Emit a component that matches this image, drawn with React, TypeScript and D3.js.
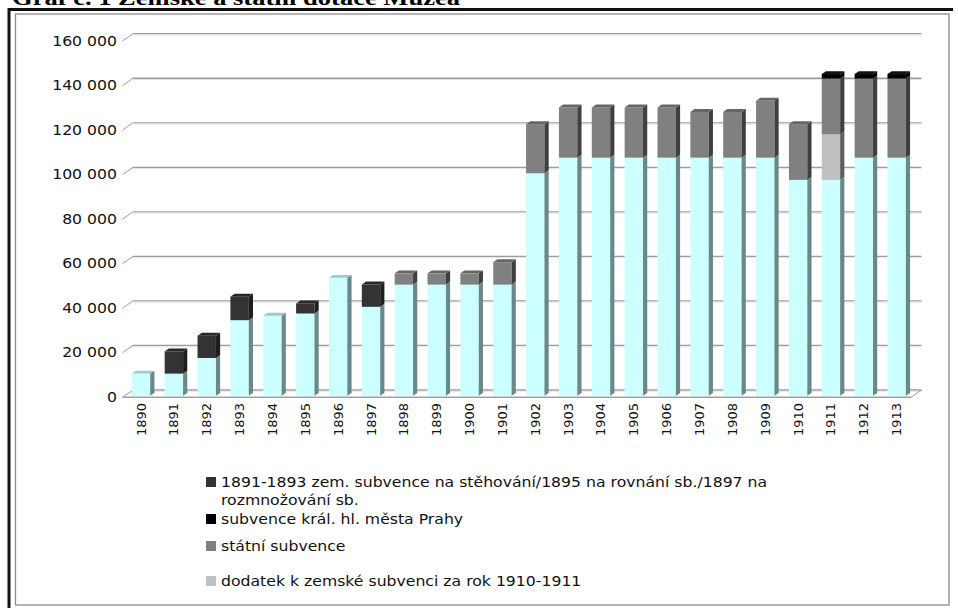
import * as d3 from 'd3';

const YEARS = ['1890', '1891', '1892', '1893', '1894', '1895', '1896', '1897', '1898', '1899', '1900', '1901',
  '1902', '1903', '1904', '1905', '1906', '1907', '1908', '1909', '1910', '1911', '1912', '1913'];

// zemská subvence (base, no legend entry)
const ZEMSKA = [10000, 10000, 17000, 34000, 36000, 37000, 53000, 40000, 50000, 50000, 50000, 50000,
  100000, 107000, 107000, 107000, 107000, 107000, 107000, 107000, 97000, 97000, 107000, 107000];
const STEHOVANI = [0, 10000, 10000, 10500, 0, 4500, 0, 10000, 0, 0, 0, 0,
  0, 0, 0, 0, 0, 0, 0, 0, 0, 0, 0, 0];
const DODATEK = [0, 0, 0, 0, 0, 0, 0, 0, 0, 0, 0, 0,
  0, 0, 0, 0, 0, 0, 0, 0, 0, 20500, 0, 0];
const STATNI = [0, 0, 0, 0, 0, 0, 0, 0, 5000, 5000, 5000, 10000,
  22000, 22500, 22500, 22500, 22500, 20500, 20500, 25500, 25000, 25000, 35500, 35500];
const PRAHA = [0, 0, 0, 0, 0, 0, 0, 0, 0, 0, 0, 0,
  0, 0, 0, 0, 0, 0, 0, 0, 0, 2000, 2000, 2000];

const Y_TICKS = [0, 20000, 40000, 60000, 80000, 100000, 120000, 140000, 160000];

const TITLE = 'Graf č. 1 Zemské a státní dotace Muzea';

const SERIES = [
  { key: 'zemska', values: ZEMSKA, front: '#CCFFFF', side: '#6A8888', top: '#9CCACA' },
  { key: 'stehovani', values: STEHOVANI, front: '#333333', side: '#1E1E1E', top: '#282828' },
  { key: 'dodatek', values: DODATEK, front: '#C0C0C0', side: '#5E5E5E', top: '#A0A0A0' },
  { key: 'statni', values: STATNI, front: '#808080', side: '#3F3F3F', top: '#666666' },
  { key: 'praha', values: PRAHA, front: '#000000', side: '#000000', top: '#111111' },
];

const LEGEND = [
  { key: 'stehovani', lines: ['1891-1893 zem. subvence na stěhování/1895 na rovnání sb./1897 na', 'rozmnožování sb.'], color: '#333333' },
  { key: 'praha', lines: ['subvence král. hl. města Prahy'], color: '#000000' },
  { key: 'statni', lines: ['státní subvence'], color: '#808080' },
  { key: 'dodatek', lines: ['dodatek k zemské subvenci za rok 1910-1911'], color: '#C0C0C0' },
];

const FONT = "'DejaVu Sans', Verdana, sans-serif";

export default function App() {
  const W = 958, H = 608;
  const x0 = 122.5, x1 = 911;
  const floorBack = 390;
  const depth = { dx: 10.5, dy: -7.3 };
  const f1 = 0.2, f2 = 0.6;

  const yBack = d3.scaleLinear().domain([0, 160000]).range([floorBack, 33.7]);
  const yFront = (v: number) => yBack(v) - depth.dy;

  const x = d3.scaleBand<string>().domain(YEARS).range([x0, x1]).paddingInner(0.44).paddingOuter(0.22);

  const table = YEARS.map((year, i) => {
    const row: Record<string, number | string> = { year };
    SERIES.forEach(s => { row[s.key] = s.values[i]; });
    return row;
  });
  const stacked = d3.stack<Record<string, number | string>>().keys(SERIES.map(s => s.key))(table as any);

  const ox1 = depth.dx * f1, oy1 = depth.dy * f1;
  const ox2 = depth.dx * f2, oy2 = depth.dy * f2;
  const bw = x.bandwidth();

  const bars: JSX.Element[] = [];
  YEARS.forEach((year, i) => {
    stacked.forEach((layer, si) => {
      const [v0, v1] = layer[i];
      if (v1 - v0 <= 0) return;
      const s = SERIES[si];
      const bx = (x(year) ?? 0) + ox1;
      const yt = yFront(v1) + oy1;
      const yb = yFront(v0) + oy1;
      const dxs = ox2 - ox1, dys = oy2 - oy1;
      bars.push(
        <g key={`${year}-${s.key}`}>
          <rect x={bx} y={yt} width={bw} height={yb - yt} fill={s.front} />
          <polygon
            points={`${bx + bw},${yb} ${bx + bw + dxs},${yb + dys} ${bx + bw + dxs},${yt + dys} ${bx + bw},${yt}`}
            fill={s.side}
          />
          <polygon
            points={`${bx},${yt} ${bx + dxs},${yt + dys} ${bx + bw + dxs},${yt + dys} ${bx + bw},${yt}`}
            fill={s.top}
          />
        </g>
      );
    });
  });

  const legendX = 206;
  const legendRows = [482, 519, 546, 581];

  return (
    <svg width={W} height={H} viewBox={`0 0 ${W} ${H}`}
      style={{ position: 'absolute', left: 0, top: 0, background: '#fff' }}>
      {/* title, cut off at top like the source */}
      <text x={12} y={5} fontFamily="'Liberation Serif', serif" fontWeight="bold" fontSize={22}
        textLength={448} lengthAdjust="spacingAndGlyphs" fill="#000">{TITLE}</text>

      {/* frame */}
      <line x1={8} y1={9.5} x2={953} y2={9.5} stroke="#111" strokeWidth={3} />
      <line x1={9} y1={8} x2={9} y2={608} stroke="#111" strokeWidth={3} />
      <rect x={15.5} y={14} width={933.5} height={591} fill="none" stroke="#8a8a8a" strokeWidth={1.3} />

      {/* back wall gridlines + left depth ticks */}
      {Y_TICKS.map(t => (
        <g key={t}>
          <line x1={x0 + depth.dx} x2={x1 + depth.dx} y1={yBack(t)} y2={yBack(t)} stroke="#9c9c9c" strokeWidth={1.3} />
          <line x1={x0 + depth.dx} x2={x1 + depth.dx} y1={yBack(t) + 1.3} y2={yBack(t) + 1.3} stroke="#e4e4e4" strokeWidth={1} />
          <line x1={x0} x2={x0 + depth.dx} y1={yFront(t)} y2={yBack(t)} stroke="#9c9c9c" strokeWidth={1} />
          <text transform={`translate(117,${yFront(t)}) scale(1.12,1)`} textAnchor="end" dominantBaseline="central"
            fontFamily={FONT} fontSize={14} fill="#111">
            {d3.format(',')(t).replace(/,/g, ' ')}
          </text>
        </g>
      ))}

      {/* floor */}
      <line x1={x0} x2={x1} y1={yFront(0)} y2={yFront(0)} stroke="#a0a0a0" strokeWidth={1.6} />
      <line x1={x1} x2={x1 + depth.dx} y1={yFront(0)} y2={yBack(0)} stroke="#a0a0a0" strokeWidth={1} />

      {bars}

      {/* category labels */}
      {YEARS.map(year => {
        const cx = (x(year) ?? 0) + bw / 2 + ox1;
        return (
          <text key={year} transform={`translate(${cx},${403}) rotate(-90)`} textAnchor="end"
            dominantBaseline="central" fontFamily={FONT} fontSize={13} fill="#111">
            {year}
          </text>
        );
      })}

      {/* legend */}
      {LEGEND.map((item, i) => (
        <g key={item.key}>
          <rect x={legendX} y={legendRows[i] - 5} width={10} height={10} fill={item.color} />
          {item.lines.map((ln, j) => (
            <text key={j} transform={`translate(${legendX + 15},${legendRows[i] + j * 18}) scale(1.12,1)`}
              dominantBaseline="central" fontFamily={FONT} fontSize={14} fill="#111">{ln}</text>
          ))}
        </g>
      ))}
    </svg>
  );
}
